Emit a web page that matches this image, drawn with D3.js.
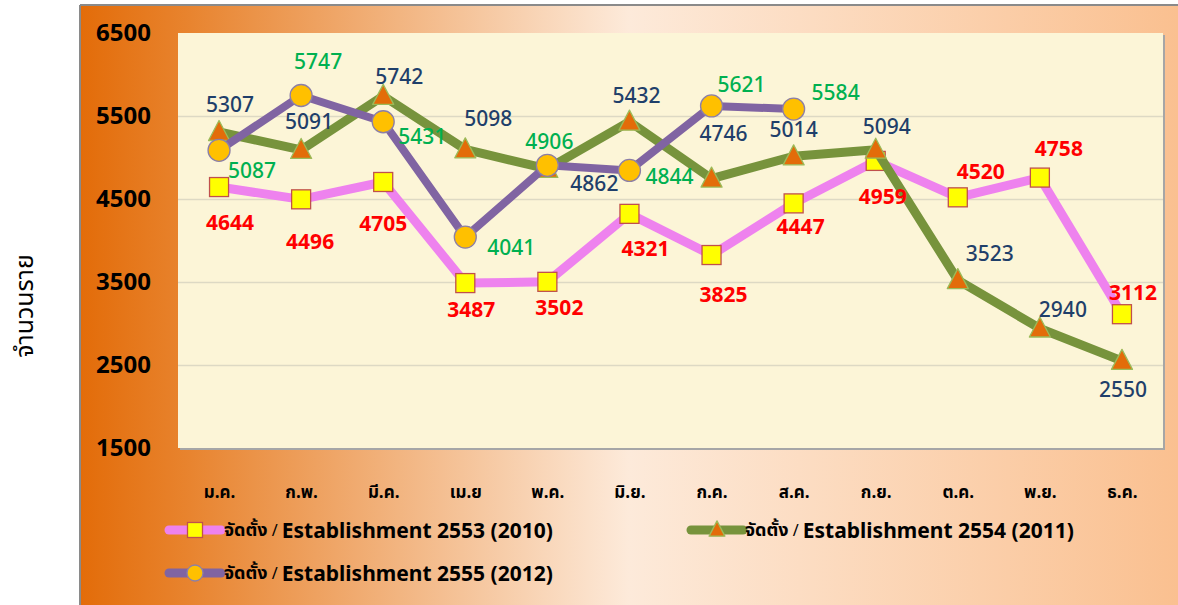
<!DOCTYPE html>
<html><head><meta charset="utf-8">
<script src="https://cdn.jsdelivr.net/npm/d3@7"></script>
<style>
html,body{margin:0;padding:0;background:#fff;}
svg{display:block;}
</style></head>
<body>
<svg id="chart" width="1178" height="605"></svg>
<script>
// ---------- data ----------
const months = ["ม.ค.","ก.พ.","มี.ค.","เม.ย","พ.ค.","มิ.ย.","ก.ค.","ส.ค.","ก.ย.","ต.ค.","พ.ย.","ธ.ค."];
const yTicks = [1500, 2500, 3500, 4500, 5500, 6500];
const est2553 = [4644, 4496, 4705, 3487, 3502, 4321, 3825, 4447, 4959, 4520, 4758, 3112];
const est2554 = [5307, 5091, 5742, 5098, 4862, 5432, 4746, 5014, 5094, 3523, 2940, 2550];
const est2555 = [5087, 5747, 5431, 4041, 4906, 4844, 5621, 5584, null, null, null, null];
const seriesYears = ["2553 (2010)", "2554 (2011)", "2555 (2012)"];
const yTitle = "จำนวนราย";
const legendThai = "จัดตั้ง";
const legendEng = "Establishment";

// label placement (offsets from point, style only)
const lab2553 = [[11,35],[9,42],[0,41],[6,26],[12,25],[16,34],[12,39],[7,23],[7,35],[23,-26],[19,-30],[11,-22]];
const lab2554 = [[11,-28],[8,-29],[16,-20],[23,-31],[47,14],[7,-27],[12,-46],[0,-27],[11,-24],[32,-27],[23,-19],[1,28]];
const lab2555 = [[33,20],[17,-34],[39,14],[46,10],[2,-24],[40,6],[30,-22],[42,-17]];

// ---------- layout ----------
const svg = d3.select("#chart");
const W = 1178, H = 605;
const plot = {x0: 178, x1: 1163, y0: 33, y1: 448};
const thaiFont = "'Noto Sans Thai','Noto Sans Thai UI','Loma','Garuda','Tahoma','Noto Sans','DejaVu Sans',sans-serif";
const numFont = "'Noto Sans','Open Sans',sans-serif";

const defs = svg.append("defs");
const grad = defs.append("linearGradient").attr("id","bg").attr("x1","0").attr("x2","1").attr("y1","0").attr("y2","0");
grad.append("stop").attr("offset","0%").attr("stop-color","#E36C09");
grad.append("stop").attr("offset","10%").attr("stop-color","#E8842F");
grad.append("stop").attr("offset","50%").attr("stop-color","#FDEADA");
grad.append("stop").attr("offset","100%").attr("stop-color","#FAC090");

// outer chart area
svg.append("rect").attr("x",80).attr("y",5).attr("width",W-80).attr("height",H-5).attr("fill","url(#bg)");
svg.append("line").attr("x1",80).attr("x2",W).attr("y1",5).attr("y2",5).attr("stroke","#8A8A8A").attr("stroke-width",2);
svg.append("line").attr("x1",80).attr("x2",80).attr("y1",5).attr("y2",H).attr("stroke","#8A8A8A").attr("stroke-width",2);

// plot area with shadow
svg.append("rect").attr("x",plot.x0+2).attr("y",plot.y0+2).attr("width",plot.x1-plot.x0).attr("height",plot.y1-plot.y0).attr("fill","#A6A6A6");
svg.append("rect").attr("x",plot.x0).attr("y",plot.y0).attr("width",plot.x1-plot.x0).attr("height",plot.y1-plot.y0).attr("fill","#FCF5D7");

const x = d3.scalePoint().domain(months).range([plot.x0, plot.x1]).padding(0.5);
const y = d3.scaleLinear().domain([1500, 6500]).range([plot.y1, plot.y0]);

// gridlines
const grid = svg.append("g").attr("transform",`translate(${plot.x0},0)`)
  .call(d3.axisLeft(y).tickValues(yTicks.filter(v => v > 1500 && v < 6500)).tickSize(-(plot.x1-plot.x0)).tickFormat(""));
grid.select(".domain").remove();
grid.selectAll("line").attr("stroke","#DDD9C4").attr("stroke-width",1.3);

// y axis labels
const yAx = svg.append("g").attr("transform",`translate(151,0)`)
  .call(d3.axisLeft(y).tickValues(yTicks).tickSize(0).tickPadding(0).tickFormat(d3.format("d")));
yAx.select(".domain").remove();
yAx.selectAll("text").attr("font-family",numFont).attr("font-weight","bold").attr("font-size",24).attr("fill","#000").attr("text-anchor","end");

// x axis labels
const xAx = svg.append("g").attr("transform",`translate(0,486)`)
  .call(d3.axisBottom(x).tickSize(0).tickPadding(0));
xAx.select(".domain").remove();
xAx.selectAll("text").attr("font-family",thaiFont).attr("font-weight","bold").attr("font-size",17).attr("fill","#000");

// y title
svg.append("text").attr("transform","translate(25,306) rotate(-90)")
  .attr("text-anchor","middle").attr("dominant-baseline","central")
  .attr("font-family",thaiFont).attr("font-size",25).attr("fill","#000").text(yTitle);

// ---------- series ----------
const series = [
  {vals: est2553, line:"#EE82EE", lw:9, marker:"square", fill:"#FFFF00", stroke:"#C0504D", lab:lab2553, lc:"#FF0000", lwt:"bold"},
  {vals: est2554, line:"#77933C", lw:9, marker:"triangle", fill:"#E36C09", stroke:"#9BBB59", lab:lab2554, lc:"#1F3F6A", lwt:"500"},
  {vals: est2555, line:"#8064A2", lw:8, marker:"circle", fill:"#FFC000", stroke:"#8C7FA8", lab:lab2555, lc:"#00B050", lwt:"500"}
];

function drawMarker(g, type, cx, cy, s, fill, stroke) {
  if (type === "square") {
    g.append("rect").attr("x",cx-s/2).attr("y",cy-s/2).attr("width",s).attr("height",s)
      .attr("fill",fill).attr("stroke",stroke).attr("stroke-width",1.3);
  } else if (type === "circle") {
    g.append("circle").attr("cx",cx).attr("cy",cy).attr("r",s/2)
      .attr("fill",fill).attr("stroke",stroke).attr("stroke-width",1.3);
  } else {
    const h = s*0.95, w = s*1.05;
    g.append("path").attr("d",`M${cx},${cy-h/2-2}L${cx+w/2},${cy+h/2-1}L${cx-w/2},${cy+h/2-1}Z`)
      .attr("fill",fill).attr("stroke",stroke).attr("stroke-width",1.3).attr("stroke-linejoin","round");
  }
}

const lineGen = d3.line().defined(d => d.v != null).x(d => x(d.m)).y(d => y(d.v));
series.forEach(s => {
  const pts = s.vals.map((v,i) => ({m: months[i], v}));
  const g = svg.append("g");
  g.append("path").datum(pts).attr("d", lineGen).attr("fill","none")
    .attr("stroke", s.line).attr("stroke-width", s.lw).attr("stroke-linejoin","round").attr("stroke-linecap","round");
  pts.filter(d => d.v != null).forEach(d => {
    const sz = s.marker === "circle" ? 22 : (s.marker === "square" ? 19 : 20);
    drawMarker(g, s.marker, x(d.m), y(d.v), sz, s.fill, s.stroke);
  });
});
// labels on top
series.forEach(s => {
  s.vals.forEach((v,i) => {
    if (v == null) return;
    const o = s.lab[i];
    svg.append("text").attr("x", x(months[i]) + o[0]).attr("y", y(v) + o[1])
      .attr("text-anchor","middle").attr("dominant-baseline","central")
      .attr("font-family",numFont).attr("font-size",21).attr("font-weight",s.lwt)
      .attr("fill",s.lc).text(v);
  });
});

// ---------- legend ----------
const legendPos = [[195,530,224],[717,530,745],[195,573,224]];
series.forEach((s,i) => {
  const [cx, cy, tx] = legendPos[i];
  const g = svg.append("g");
  g.append("line").attr("x1",cx-26).attr("x2",cx+26).attr("y1",cy).attr("y2",cy)
    .attr("stroke",s.line).attr("stroke-width",9).attr("stroke-linecap","round");
  drawMarker(g, s.marker, cx, cy, s.marker === "circle" ? 16 : 15, s.fill, s.stroke);
  const t = g.append("text").attr("x",tx).attr("y",cy).attr("dominant-baseline","central").attr("fill","#000");
  t.append("tspan").attr("font-family",thaiFont).attr("font-size",18).attr("font-weight","bold").text(legendThai);
  t.append("tspan").attr("font-family",numFont).attr("font-size",16).text(" / ");
  t.append("tspan").attr("font-family",numFont).attr("font-size",21).attr("font-weight","bold")
    .text(legendEng + " " + seriesYears[i]);
});
</script>
</body></html>
